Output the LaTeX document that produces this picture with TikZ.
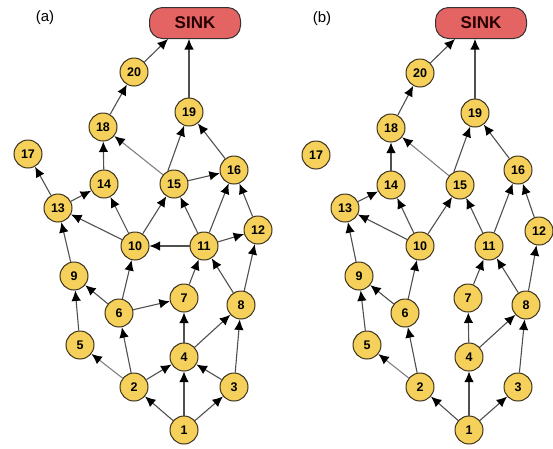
\documentclass[tikz,border=0pt]{standalone}
\usepackage{fontspec}
\setmainfont{Liberation Sans}
\usetikzlibrary{arrows.meta}
\definecolor{nodeyellow}{RGB}{245,208,90}
\definecolor{nodeborder}{RGB}{60,50,30}
\definecolor{sinkred}{RGB}{228,100,100}
\definecolor{edgegray}{RGB}{80,80,80}
\begin{document}
\begin{tikzpicture}[x=1pt,y=-1pt,
  vtx/.style={circle,draw=nodeborder,line width=1pt,fill=nodeyellow,minimum size=28pt,inner sep=0pt,font=\fontsize{12.5}{12.5}\selectfont\bfseries},
  sinkbox/.style={rectangle,rounded corners=13pt,draw=black!80,line width=1pt,fill=sinkred,minimum width=91pt,minimum height=31pt,inner sep=0pt,font=\fontsize{17}{17}\selectfont\bfseries,text=black!85!red},
  lab/.style={font=\fontsize{15}{15}\selectfont},
  edge/.style={draw=edgegray,line width=1.1pt,-{Latex[length=10.5pt,width=9.5pt,color=black,fill=black]}},
  ledge/.style={edge,draw=gray}]
\useasboundingbox (0,0) rectangle (553,448);
% ---------- (a) ----------
\node[lab] (la) at (45,18) {(a)};
\node[sinkbox] (aS) at (195,23) {SINK};
\node[vtx] (a1) at (184,430) {1};
\node[vtx] (a2) at (134,387) {2};
\node[vtx] (a3) at (234,387) {3};
\node[vtx] (a4) at (184,357) {4};
\node[vtx] (a5) at (80,345) {5};
\node[vtx] (a6) at (119,313) {6};
\node[vtx] (a7) at (184,298) {7};
\node[vtx] (a8) at (241,305) {8};
\node[vtx] (a9) at (74,276) {9};
\node[vtx] (a10) at (135,246) {10};
\node[vtx] (a11) at (204,246) {11};
\node[vtx] (a12) at (258,230) {12};
\node[vtx] (a13) at (58,208) {13};
\node[vtx] (a14) at (104,184) {14};
\node[vtx] (a15) at (174,184) {15};
\node[vtx] (a16) at (234,170) {16};
\node[vtx] (a17) at (28,154) {17};
\node[vtx] (a18) at (103,127) {18};
\node[vtx] (a19) at (189,112) {19};
\node[vtx] (a20) at (134,72) {20};
\draw[edge] (a1) -- (a2);
\draw[edge] (a1) -- (a4);
\draw[edge] (a1) -- (a3);
\draw[ledge] (a2) -- (a5);
\draw[edge] (a2) -- (a6);
\draw[edge] (a2) -- (a4);
\draw[edge] (a3) -- (a4);
\draw[edge] (a3) -- (a8);
\draw[edge] (a4) -- (a7);
\draw[edge] (a4) -- (a8);
\draw[edge] (a5) -- (a9);
\draw[edge] (a6) -- (a9);
\draw[edge] (a6) -- (a7);
\draw[edge] (a6) -- (a10);
\draw[edge] (a7) -- (a11);
\draw[edge] (a8) -- (a11);
\draw[edge] (a8) -- (a12);
\draw[edge] (a9) -- (a13);
\draw[edge] (a10) -- (a13);
\draw[edge] (a10) -- (a14);
\draw[edge] (a10) -- (a15);
\draw[edge] (a11) -- (a10);
\draw[edge] (a11) -- (a15);
\draw[edge] (a11) -- (a16);
\draw[edge] (a11) -- (a12);
\draw[edge] (a12) -- (a16);
\draw[edge] (a13) -- (a17);
\draw[edge] (a13) -- (a14);
\draw[edge] (a14) -- (a18);
\draw[ledge] (a15.140) -- (a18);
\draw[edge] (a15.115) -- (a19);
\draw[edge] (a15) -- (a16);
\draw[edge] (a16) -- (a19);
\draw[edge] (a18) -- (a20);
\draw[edge] (a20) -- (aS.south west -| 168,0);
\draw[edge] (a19) -- (a19 |- aS.south);
% ---------- (b) ----------
\node[lab] (lb) at (322,19) {(b)};
\node[sinkbox] (bS) at (481,23) {SINK};
\node[vtx] (b1) at (469,430) {1};
\node[vtx] (b2) at (420,387) {2};
\node[vtx] (b3) at (518,387) {3};
\node[vtx] (b4) at (469,357) {4};
\node[vtx] (b5) at (367,345) {5};
\node[vtx] (b6) at (405,313) {6};
\node[vtx] (b7) at (468,298) {7};
\node[vtx] (b8) at (526,305) {8};
\node[vtx] (b9) at (359,276) {9};
\node[vtx] (b10) at (420,246) {10};
\node[vtx] (b11) at (489,246) {11};
\node[vtx] (b12) at (539,231) {12};
\node[vtx] (b13) at (345,208) {13};
\node[vtx] (b14) at (391,185) {14};
\node[vtx] (b15) at (460,185) {15};
\node[vtx] (b16) at (518,170) {16};
\node[vtx] (b17) at (316,155) {17};
\node[vtx] (b18) at (391,128) {18};
\node[vtx] (b19) at (475,113) {19};
\node[vtx] (b20) at (420,73) {20};
\draw[edge] (b1) -- (b2);
\draw[edge] (b1) -- (b4);
\draw[edge] (b1) -- (b3);
\draw[ledge] (b2) -- (b5);
\draw[edge] (b2) -- (b6);
\draw[edge] (b3) -- (b8);
\draw[edge] (b4) -- (b7);
\draw[edge] (b4) -- (b8);
\draw[edge] (b5) -- (b9);
\draw[edge] (b6) -- (b9);
\draw[edge] (b6) -- (b10);
\draw[edge] (b7) -- (b11);
\draw[edge] (b8) -- (b11);
\draw[edge] (b8) -- (b12);
\draw[edge] (b9) -- (b13);
\draw[edge] (b10) -- (b13);
\draw[edge] (b10) -- (b14);
\draw[edge] (b10) -- (b15);
\draw[edge] (b11) -- (b15);
\draw[edge] (b11) -- (b16);
\draw[edge] (b12) -- (b16);
\draw[edge] (b13) -- (b14);
\draw[edge] (b14) -- (b18);
\draw[ledge] (b15.140) -- (b18);
\draw[edge] (b15.115) -- (b19);
\draw[edge] (b16) -- (b19);
\draw[edge] (b18) -- (b20);
\draw[edge] (b20) -- (bS.south west -| 455,0);
\draw[edge] (b19) -- (b19 |- bS.south);
\end{tikzpicture}
\end{document}
